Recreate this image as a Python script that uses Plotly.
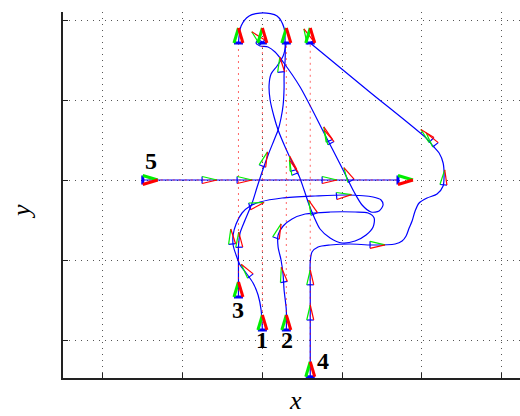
import math
import plotly.graph_objects as go

# ---------------- robot trajectories (field units) ----------------
r1_x = [0.0, -0.016, -0.054, -0.117, -0.204, -0.28, -0.33, -0.367, -0.367, -0.33, -0.255, -0.154, -0.029,
        0.247, 0.661, 1.062, 1.388, 1.488, 1.513, 1.463, 1.363, 1.25, 1.15, 1.012, 0.786, 0.473, 0.26,
        0.159, 0.071, -0.029, -0.079, -0.054, 0.0]
r1_y = [-1.875, -1.625, -1.4375, -1.2875, -1.1625, -1.0625, -0.9375, -0.8125, -0.6875, -0.55, -0.4125,
        -0.325, -0.275, -0.225, -0.2, -0.1875, -0.2125, -0.25, -0.3125, -0.3875, -0.4, -0.3125, -0.15,
        0.125, 0.5625, 1.1625, 1.475, 1.6, 1.6625, 1.675, 1.7125, 1.75, 1.725]

r2_x = [0.3, 0.3, 0.272, 0.26, 0.234, 0.197, 0.197, 0.26, 0.372, 0.536, 0.849, 1.162, 1.325, 1.401,
        1.388, 1.30, 1.162, 0.999, 0.849, 0.723, 0.648, 0.586, 0.523, 0.46, 0.372, 0.285, 0.197, 0.147,
        0.097, 0.084, 0.109, 0.184, 0.26, 0.3]
r2_y = [-1.875, -1.625, -1.375, -1.1875, -1.0, -0.8375, -0.6875, -0.575, -0.4875, -0.425, -0.4, -0.4,
        -0.4125, -0.475, -0.5875, -0.6875, -0.7625, -0.7875, -0.725, -0.6125, -0.4625, -0.3125, -0.125,
        0.05, 0.225, 0.4125, 0.625, 0.7875, 1.0, 1.1875, 1.325, 1.425, 1.55, 1.7125]

r3_x = [-0.3, -0.3, -0.3, -0.3, -0.28, -0.217, -0.129, -0.066, -0.004, 0.072, 0.147, 0.197, 0.234, 0.26,
        0.272, 0.272, 0.285, 0.285, 0.272, 0.184, 0.009, -0.166, -0.267, -0.3]
r3_y = [-1.4625, -1.25, -1.0375, -0.8375, -0.6625, -0.5, -0.2875, -0.0875, 0.1, 0.3125, 0.5, 0.625, 0.775,
        0.9375, 1.15, 1.3125, 1.5, 1.6875, 1.9, 2.05, 2.09, 2.05, 1.925, 1.7125]

r4_x = [0.6, 0.6, 0.6, 0.6, 0.622, 0.698, 0.849, 1.1, 1.375, 1.664, 1.752, 1.802, 1.84, 1.877, 1.915,
        1.965, 2.065, 2.19, 2.266, 2.278, 2.266, 2.216, 2.14, 2.065, 1.33, 0.6]
r4_y = [-2.475, -1.75, -1.3125, -1.025, -0.9, -0.8375, -0.8125, -0.8, -0.8125, -0.8, -0.7625, -0.7, -0.6,
        -0.5125, -0.3875, -0.2875, -0.225, -0.175, -0.075, 0.0625, 0.2125, 0.3375, 0.425, 0.5125, 1.1125,
        1.7125]

r5_x = [-1.5, 1.7]
r5_y = [0.0, 0.0]

# ---------------- poses: (x, y, heading in degrees) ----------------
start_poses = [(0.0, -1.875, 90), (0.3, -1.875, 90), (-0.3, -1.4625, 90), (0.6, -2.46, 90), (-1.5, 0.0, 0)]
goal_poses = [(0.0, 1.7125, 90), (0.3, 1.7125, 90), (-0.3, 1.7125, 90), (0.6, 1.7125, 90), (1.7, 0.0, 0)]

r1_poses = [(-0.15, -1.2, 128), (-0.38, -0.8, 95), (-0.16, -0.33, 15), (0.93, -0.2, 5),
            (1.11, -0.01, 118), (0.86, 0.46, 118), (0.84, 0.49, 112), (0.0, 1.72, 135)]
r2_poses = [(0.27, -1.275, 100), (0.17, -0.725, 70), (0.65, -0.425, 112), (0.41, 0.075, 112),
            (0.39, 0.12, 105), (0.235, 1.35, 95)]
r3_poses = [(-0.29, -0.84, 92), (0.0, 0.175, 70)]
r4_poses = [(0.6, -1.75, 90), (0.6, -1.31, 90), (1.35, -0.81, 0), (2.27, -0.06, 85),
            (2.17, 0.44, 128), (2.12, 0.5, 135), (0.6, 1.72, 115)]
r5_poses = [(-0.756, 0.0, 0), (-0.317, 0.0, 0), (0.749, 0.0, 0)]

robot_labels = ["1", "2", "3", "4", "5"]

# ---------------- figure geometry ----------------
W, H = 520, 416
ML, MR, MT, MB = 63, 0, 12, 38
X_RANGE = [-2.5, 3.23]
Y_RANGE = [-2.475, 2.1]
SX = (W - ML - MR) / (X_RANGE[1] - X_RANGE[0])   # px per x unit
SY = (H - MT - MB) / (Y_RANGE[1] - Y_RANGE[0])   # px per y unit

fig = go.Figure()

# blue trajectories
paths = [(r1_x, r1_y), (r2_x, r2_y), (r3_x, r3_y), (r4_x, r4_y), (r5_x, r5_y)]
for xs, ys in paths:
    fig.add_trace(go.Scatter(x=xs, y=ys, mode="lines",
                             line=dict(color="#0000ff", width=1.2, shape="spline", smoothing=0.8),
                             hoverinfo="skip", showlegend=False))

# red dotted straight-line references from start to goal
for (sx, sy, _), (gx, gy, _) in zip(start_poses, goal_poses):
    fig.add_trace(go.Scatter(x=[sx, gx], y=[sy, gy], mode="lines",
                             line=dict(color="rgba(255,0,0,0.6)", width=1, dash="2px,4px"),
                             hoverinfo="skip", showlegend=False))


def triangle(x, y, deg, length, half):
    t = math.radians(deg)
    fx, fy = math.cos(t), math.sin(t)
    lx, ly = -fy, fx
    bl = (x + half * lx / SX, y + half * ly / SY)
    br = (x - half * lx / SX, y - half * ly / SY)
    ap = (x + length * fx / SX, y + length * fy / SY)
    return bl, br, ap


def add_frames(poses, length, half, width):
    base = ([], [])
    left = ([], [])
    right = ([], [])
    for x, y, d in poses:
        bl, br, ap = triangle(x, y, d, length, half)
        for seg, (p, q) in ((base, (bl, br)), (left, (bl, ap)), (right, (br, ap))):
            seg[0].extend([p[0], q[0], None])
            seg[1].extend([p[1], q[1], None])
    for seg, col in ((base, "#0000ff"), (left, "#00ee00"), (right, "#ff0000")):
        fig.add_trace(go.Scatter(x=seg[0], y=seg[1], mode="lines",
                                 line=dict(color=col, width=width),
                                 hoverinfo="skip", showlegend=False))


add_frames(r1_poses + r2_poses + r3_poses + r4_poses + r5_poses, 15, 3.5, 1.2)
add_frames(start_poses + goal_poses, 15, 4.5, 3)

# robot numbers next to the start poses (pixel offsets)
label_offsets = [(0, -10), (1, -10), (0, -13), (13, 16), (8, 19)]
for lab, (sx, sy, _), (ox, oy) in zip(robot_labels, start_poses, label_offsets):
    fig.add_annotation(x=sx, y=sy, xref="x", yref="y", text="<b>%s</b>" % lab, showarrow=False,
                       xshift=ox, yshift=oy, xanchor="center", yanchor="middle",
                       font=dict(family="Liberation Serif", size=24, color="black"))

# axis titles
fig.add_annotation(x=(295 - ML) / (W - ML - MR), y=0, xref="paper", yref="paper", yshift=-22,
                   text="<i>x</i>", showarrow=False, xanchor="center", yanchor="middle",
                   font=dict(family="Liberation Serif", size=26, color="black"))
fig.add_annotation(x=0, y=(H - MB - 212) / (H - MT - MB), xref="paper", yref="paper", xshift=-41,
                   text="<i>y</i>", showarrow=False, textangle=-90, xanchor="center", yanchor="middle",
                   font=dict(family="Liberation Serif", size=26, color="black"))

axis_common = dict(showticklabels=False, ticks="inside", ticklen=5, tickwidth=1, tickcolor="#222",
                   showline=True, linecolor="#222", linewidth=1.5, zeroline=False,
                   showgrid=True, gridcolor="#555", gridwidth=1, griddash="1px,5px")
fig.update_xaxes(range=X_RANGE, tickvals=[-2, -1, 0, 1, 2, 3], **axis_common)
fig.update_yaxes(range=Y_RANGE, tickvals=[-2, -1, 0, 1, 2], **axis_common)

fig.update_layout(width=W, height=H, margin=dict(l=ML, r=MR, t=MT, b=MB),
                  paper_bgcolor="white", plot_bgcolor="white", showlegend=False)

fig.write_html("out.html")
